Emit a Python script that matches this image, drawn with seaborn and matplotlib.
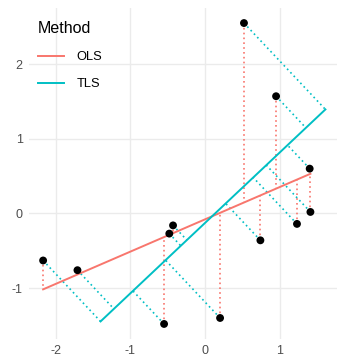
import numpy as np
import pandas as pd
import matplotlib
matplotlib.use("Agg")
import matplotlib.pyplot as plt
import seaborn as sns

# ---- data ----
x_vals = [-2.17, -1.71, -0.55, -0.48, -0.43, 0.20, 0.74, 1.23, 1.41, 0.52, 0.95, 1.40]
y_vals = [-0.63, -0.76, -1.48, -0.27, -0.16, -1.40, -0.36, -0.14, 0.02, 2.55, 1.57, 0.60]
methods = ["OLS", "TLS"]
method_colors = ["#F8766D", "#00BFC4"]
x_ticks = [-2, -1, 0, 1]
y_ticks = [-1, 0, 1, 2]

x = np.array(x_vals)
y = np.array(y_vals)
mx, my = x.mean(), y.mean()

# OLS fit
b_ols = np.sum((x - mx) * (y - my)) / np.sum((x - mx) ** 2)
a_ols = my - b_ols * mx
ols_fit = a_ols + b_ols * x

# TLS fit (first principal component)
X = np.column_stack([x - mx, y - my])
_, _, vt = np.linalg.svd(X, full_matrices=False)
d = vt[0]
t = X @ d
tls_px = mx + t * d[0]
tls_py = my + t * d[1]

lines = pd.DataFrame({
    "x": np.r_[np.sort(x)[[0, -1]], tls_px[np.argsort(t)][[0, -1]]],
    "y": np.r_[a_ols + b_ols * np.sort(x)[[0, -1]], tls_py[np.argsort(t)][[0, -1]]],
    "Method": ["OLS", "OLS", "TLS", "TLS"],
})
pts = pd.DataFrame({"x": x, "y": y})

W, H = 337, 358
fig = plt.figure(figsize=(W / 100, H / 100), dpi=100)
plt.rcParams["font.family"] = ["Liberation Sans", "DejaVu Sans"]

left_px, right_px, top_px, bot_px = 29, 337, 8, 339
ax = fig.add_axes([left_px / W, 1 - bot_px / H, (right_px - left_px) / W, (bot_px - top_px) / H])

allx = np.r_[x, tls_px]
ally = np.r_[y, tls_py, ols_fit]
yr = ally.max() - ally.min()
ylim = (ally.min() - 0.05 * yr, ally.max() + 0.05 * yr)
ppu = (bot_px - top_px) / (ylim[1] - ylim[0])
xr = allx.max() - allx.min()
xl = allx.min() - 0.05 * xr
xlim = (xl, xl + (right_px - left_px) / ppu)

# projection segments
for xi, yi, fi in zip(x, y, ols_fit):
    ax.plot([xi, xi], [yi, fi], color=method_colors[0], ls=(0, (1, 1.9)), lw=1.2, zorder=2)
for xi, yi, pxi, pyi in zip(x, y, tls_px, tls_py):
    ax.plot([xi, pxi], [yi, pyi], color=method_colors[1], ls=(0, (1, 1.9)), lw=1.2, zorder=2)

sns.lineplot(data=lines, x="x", y="y", hue="Method", palette=method_colors,
             hue_order=methods, units="Method", estimator=None, sort=False,
             lw=1.4, ax=ax, zorder=3)
sns.scatterplot(data=pts, x="x", y="y", color="black", s=32, edgecolor="none", ax=ax, zorder=4)

ax.set_xlim(xlim)
ax.set_ylim(ylim)
ax.set_xticks(x_ticks)
ax.set_yticks(y_ticks)
ax.set_xticklabels([str(v) for v in x_ticks])
ax.set_yticklabels([str(v) for v in y_ticks])
ax.set_xlabel("")
ax.set_ylabel("")
for s in ax.spines.values():
    s.set_visible(False)
ax.grid(True, color="#EBEBEB", lw=1.0)
ax.set_axisbelow(True)
ax.tick_params(length=0, labelsize=9, colors="#4D4D4D", pad=4.5)

leg = ax.legend(title="Method", loc="upper left", bbox_to_anchor=(0.0, 0.988),
                frameon=False, fontsize=9.3, title_fontsize=11.5, handlelength=2.0,
                labelspacing=1.15, handletextpad=1.0, borderaxespad=0.3)
leg._legend_box.align = "left"
leg._legend_box.sep = 11

fig.savefig("out.png", dpi=100)
